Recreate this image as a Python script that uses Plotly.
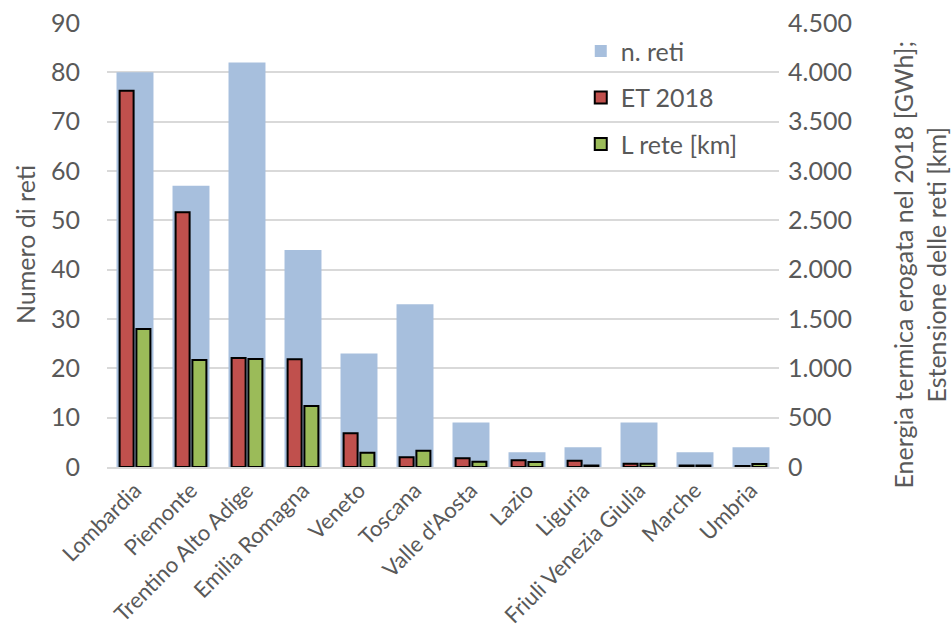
import plotly.graph_objects as go

regions = ["Lombardia", "Piemonte", "Trentino Alto Adige", "Emilia Romagna", "Veneto",
           "Toscana", "Valle d'Aosta", "Lazio", "Liguria", "Friuli Venezia Giulia",
           "Marche", "Umbria"]
n_reti = [80, 57, 82, 44, 23, 33, 9, 3, 4, 9, 3, 4]
et_2018 = [3814, 2581, 1105, 1091, 341, 98, 88, 68, 64, 33, 15, 10]
l_rete = [1399, 1084, 1095, 618, 145, 165, 54, 51, 15, 33, 15, 30]

left_ticks = list(range(0, 100, 10))
right_ticks = list(range(0, 5000, 500))

left_title = "Numero di reti"
right_title = "Energia termica erogata nel 2018 [GWh];<br>Estensione delle reti [km]"

FONT = "Lato"
GRAY = "#595959"

fig = go.Figure()
fig.add_trace(go.Bar(
    x=regions, y=n_reti, name="n. reti", yaxis="y",
    marker=dict(color="#A7BFDD", line=dict(width=0)),
    width=0.66, offset=-0.33, legendgroup="a",
))
fig.add_trace(go.Bar(
    x=regions, y=et_2018, name="ET 2018", yaxis="y2",
    marker=dict(color="#C0504D", line=dict(color="black", width=2)),
    width=0.25, offset=-0.275, legendgroup="b",
))
fig.add_trace(go.Bar(
    x=regions, y=l_rete, name="L rete [km]", yaxis="y2",
    marker=dict(color="#9BBB59", line=dict(color="black", width=2)),
    width=0.25, offset=0.025, legendgroup="c",
))

fig.update_layout(
    width=951, height=630,
    margin=dict(l=107, r=172, t=23, b=163),
    paper_bgcolor="white", plot_bgcolor="white",
    barmode="overlay",
    separators=",.",
    font=dict(family=FONT, color=GRAY, size=25),
    showlegend=True,
    legend=dict(x=0.705, y=0.988, xanchor="left", yanchor="top",
                font=dict(size=25, color=GRAY), bgcolor="rgba(0,0,0,0)",
                tracegroupgap=11, itemsizing="constant"),
    xaxis=dict(
        tickangle=-45, tickfont=dict(size=22, color=GRAY),
        showgrid=False, showline=True, linecolor="#D9D9D9", linewidth=1.5,
        ticks="", automargin=False,
    ),
    yaxis=dict(
        range=[0, 90], tickvals=left_ticks,
        showgrid=True, gridcolor="#D9D9D9", gridwidth=1.5,
        zeroline=False, ticks="", ticklabelstandoff=26,
        tickfont=dict(size=25, color=GRAY),
        automargin=False, ticklabeloverflow="allow",
    ),
    yaxis2=dict(
        range=[0, 4500], tickvals=right_ticks, tickformat=",d",
        overlaying="y", side="right", showgrid=False, zeroline=False,
        ticks="", ticklabelstandoff=8,
        tickfont=dict(size=25, color=GRAY),
        automargin=False, ticklabeloverflow="allow",
    ),
    annotations=[
        dict(text=left_title, xref="paper", yref="paper", x=-0.122, y=0.5,
             xanchor="center", yanchor="middle", textangle=-90, showarrow=False,
             font=dict(size=25, color=GRAY)),
        dict(text=right_title, xref="paper", yref="paper", x=1.209, y=0.457,
             xanchor="center", yanchor="middle", textangle=-90, showarrow=False,
             font=dict(size=25, color=GRAY)),
    ],
)

fig.write_html("out.html", config={"displayModeBar": False},
               post_script="document.body.style.margin='0';")
